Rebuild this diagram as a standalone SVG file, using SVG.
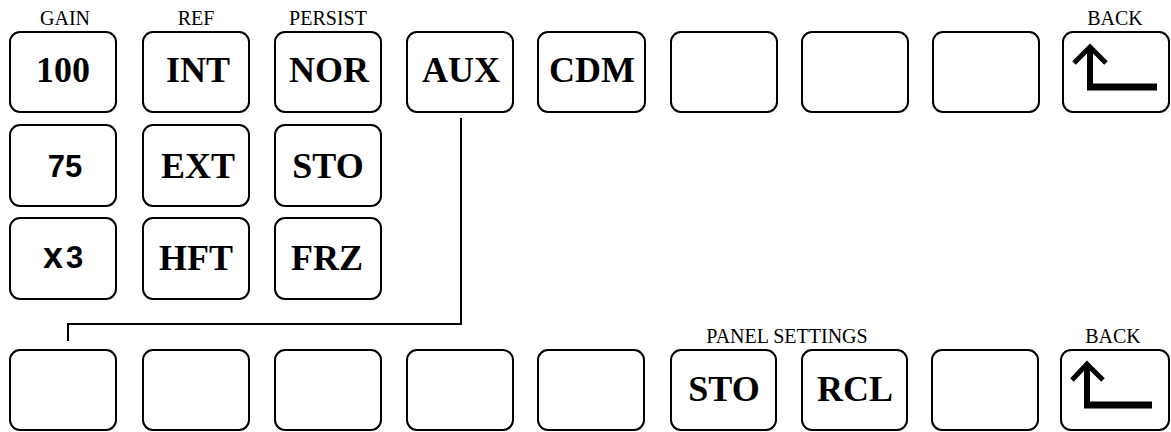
<svg xmlns="http://www.w3.org/2000/svg" width="1171" height="432" viewBox="0 0 1171 432">
<style>
.btn{fill:#fff;stroke:#000;stroke-width:2}
.t{font-family:"Liberation Serif","Times New Roman",serif;font-weight:bold;font-size:36px;text-anchor:middle;fill:#000}
.s{font-family:"Liberation Sans",Arial,sans-serif;font-weight:bold;font-size:31px;text-anchor:middle;fill:#000}
.lbl{font-family:"Liberation Serif","Times New Roman",serif;font-size:20px;text-anchor:middle;fill:#000}
.arw{fill:none;stroke:#000}
.conn{fill:none;stroke:#000;stroke-width:2}
</style>
<rect width="1171" height="432" fill="#fff"/>
<g id="labels">
<text class="lbl" x="65" y="25">GAIN</text>
<text class="lbl" x="196" y="25">REF</text>
<text class="lbl" x="328" y="25">PERSIST</text>
<text class="lbl" x="1115" y="25">BACK</text>
<text class="lbl" x="787" y="343">PANEL SETTINGS</text>
<text class="lbl" x="1113" y="343">BACK</text>
</g>
<g id="connectors">
<path class="conn" d="M461,118 V324 H68 V341"/>
</g>
<g id="b100"><rect class="btn" x="10" y="32" width="106" height="80" rx="10"/><text class="t" x="63" y="82">100</text></g>
<g id="bINT"><rect class="btn" x="143" y="32" width="106" height="80" rx="10"/><text class="t" x="198" y="82">INT</text></g>
<g id="bNOR"><rect class="btn" x="275" y="32" width="106" height="80" rx="10"/><text class="t" x="329" y="82">NOR</text></g>
<g id="bAUX"><rect class="btn" x="407" y="32" width="106" height="80" rx="10"/><text class="t" x="461" y="82">AUX</text></g>
<g id="bCDM"><rect class="btn" x="538" y="32" width="107" height="80" rx="10"/><text class="t" x="592" y="82">CDM</text></g>
<g id="top6"><rect class="btn" x="671" y="32" width="106" height="80" rx="10"/></g>
<g id="top7"><rect class="btn" x="802" y="32" width="106" height="80" rx="10"/></g>
<g id="top8"><rect class="btn" x="933" y="32" width="106" height="80" rx="10"/></g>
<g id="backTop"><rect class="btn" x="1063" y="32" width="106" height="80" rx="10"/>
<path class="arw" stroke-width="6" d="M1090,50 V87"/>
<path class="arw" stroke-width="7" d="M1087,87 H1157"/>
<path class="arw" stroke-width="5" d="M1074,63 L1090,47 L1106,63"/>
</g>
<g id="b75"><rect class="btn" x="10" y="125" width="106" height="81" rx="10"/><text class="s" x="65" y="177">75</text></g>
<g id="bEXT"><rect class="btn" x="143" y="125" width="106" height="81" rx="10"/><text class="t" x="198" y="178">EXT</text></g>
<g id="bSTO"><rect class="btn" x="275" y="125" width="106" height="81" rx="10"/><text class="t" x="328" y="178">STO</text></g>
<g id="bx3"><rect class="btn" x="10" y="218" width="106" height="81" rx="10"/><text class="s" x="43" y="268" style="text-anchor:start"><tspan font-size="36">x</tspan><tspan dx="3">3</tspan></text></g>
<g id="bHFT"><rect class="btn" x="143" y="218" width="106" height="81" rx="10"/><text class="t" x="196" y="270">HFT</text></g>
<g id="bFRZ"><rect class="btn" x="275" y="218" width="106" height="81" rx="10"/><text class="t" x="327" y="270">FRZ</text></g>
<g id="bot1"><rect class="btn" x="10" y="350" width="106" height="80" rx="10"/></g>
<g id="bot2"><rect class="btn" x="143" y="350" width="106" height="80" rx="10"/></g>
<g id="bot3"><rect class="btn" x="275" y="350" width="106" height="80" rx="10"/></g>
<g id="bot4"><rect class="btn" x="407" y="350" width="106" height="80" rx="10"/></g>
<g id="bot5"><rect class="btn" x="538" y="350" width="106" height="80" rx="10"/></g>
<g id="bPanelSTO"><rect class="btn" x="671" y="350" width="105" height="80" rx="10"/><text class="t" x="724" y="401">STO</text></g>
<g id="bRCL"><rect class="btn" x="802" y="350" width="105" height="80" rx="10"/><text class="t" x="855" y="401">RCL</text></g>
<g id="bot8"><rect class="btn" x="932" y="350" width="106" height="80" rx="10"/></g>
<g id="backBot"><rect class="btn" x="1061" y="350" width="108" height="80" rx="10"/>
<path class="arw" stroke-width="6" d="M1087,367 V405"/>
<path class="arw" stroke-width="7" d="M1084,405 H1152"/>
<path class="arw" stroke-width="5" d="M1072,380 L1087,364 L1103,380"/>
</g>
</svg>
